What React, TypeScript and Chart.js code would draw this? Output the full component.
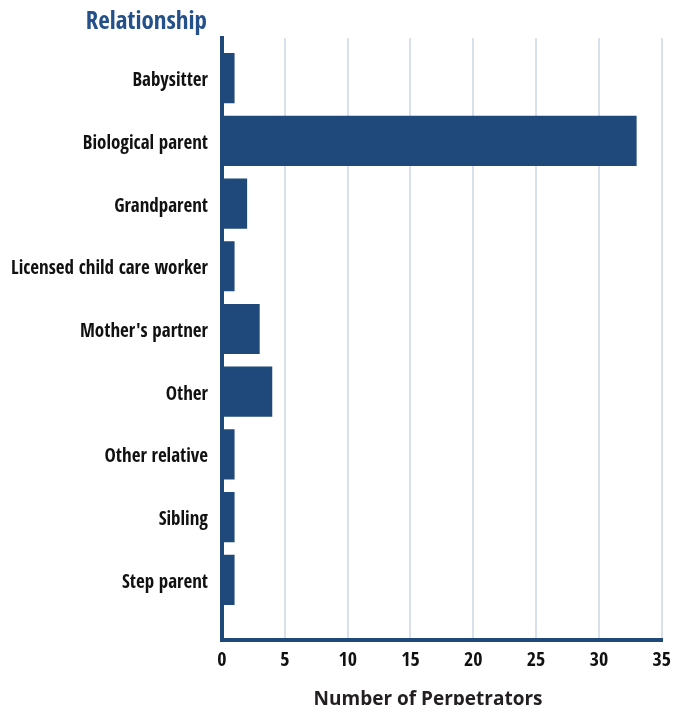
import React, { useEffect, useRef } from "react";
import { Chart, registerables } from "chart.js";

Chart.register(...registerables);

const categories = [
  "Babysitter",
  "Biological parent",
  "Grandparent",
  "Licensed child care worker",
  "Mother's partner",
  "Other",
  "Other relative",
  "Sibling",
  "Step parent",
];
const perpetrators = [1, 33, 2, 1, 3, 4, 1, 1, 1];
const xTicks = [0, 5, 10, 15, 20, 25, 30, 35];
const yTitle = "Relationship";
const xTitle = "Number of Perpetrators";

const NARROW = "'Open Sans Condensed', 'Roboto Condensed', sans-serif";
const BLUE = "#1f497b";

const titlePlugin = {
  id: "axisTitles",
  afterDraw(chart: any) {
    const ctx = chart.ctx;
    const y = chart.scales.y;
    ctx.save();
    ctx.font = `bold 25px ${NARROW}`;
    ctx.fillStyle = "#24518a";
    ctx.textAlign = "right";
    ctx.textBaseline = "alphabetic";
    ctx.fillText(yTitle, y.right - 15, 21);
    ctx.font = "bold 19px 'Open Sans', sans-serif";
    ctx.fillStyle = "#231f20";
    ctx.textAlign = "center";
    ctx.fillText(xTitle, 420, 697);
    ctx.restore();
  },
};

export default function App() {
  const ref = useRef<HTMLCanvasElement | null>(null);
  useEffect(() => {
    if (!ref.current) return;
    const chart = new Chart(ref.current, {
      type: "bar",
      data: {
        datasets: [
          {
            data: perpetrators.map((v, i) => ({ x: v, y: i })),
            backgroundColor: BLUE,
            borderWidth: 0,
            barPercentage: 0.8,
            categoryPercentage: 1,
          },
        ],
      },
      options: {
        indexAxis: "y",
        animation: false,
        responsive: false,
        devicePixelRatio: 1,
        layout: { padding: { top: 30, right: 18, bottom: 0, left: 0 } },
        plugins: { legend: { display: false }, tooltip: { enabled: false } },
        scales: {
          x: {
            type: "linear",
            min: 0,
            max: 35,
            bounds: "data",
            offset: false,
            afterBuildTicks: (s: any) => {
              s.ticks = xTicks.map((v) => ({ value: v }));
            },
            afterFit: (s: any) => {
              s.height = 73;
            },
            grid: { color: "#d8e1eb", lineWidth: 2, drawTicks: false, offset: false },
            border: { display: true, color: BLUE, width: 4 },
            ticks: {
              padding: 9,
              color: "#111",
              font: { family: NARROW, size: 20, weight: "bold" },
            },
          },
          y: {
            type: "linear",
            reverse: true,
            min: -0.64,
            max: 8.96,
            bounds: "data",
            offset: false,
            afterBuildTicks: (s: any) => {
              s.ticks = categories.map((_, i) => ({ value: i }));
            },
            afterFit: (s: any) => {
              s.width = 214;
            },
            grid: { display: false, drawTicks: false, offset: false },
            border: { display: true, color: BLUE, width: 4 },
            ticks: {
              padding: 14,
              labelOffset: 3,
              color: "#111",
              font: { family: NARROW, size: 19, weight: "bold" },
              callback: (v: any) => categories[v as number] ?? "",
            },
          },
        },
      },
      plugins: [titlePlugin],
    } as any);
    return () => chart.destroy();
  }, []);
  return (
    <div style={{ width: 672, height: 705, marginBottom: -8 }}>
      <canvas ref={ref} width={672} height={705} />
    </div>
  );
}
